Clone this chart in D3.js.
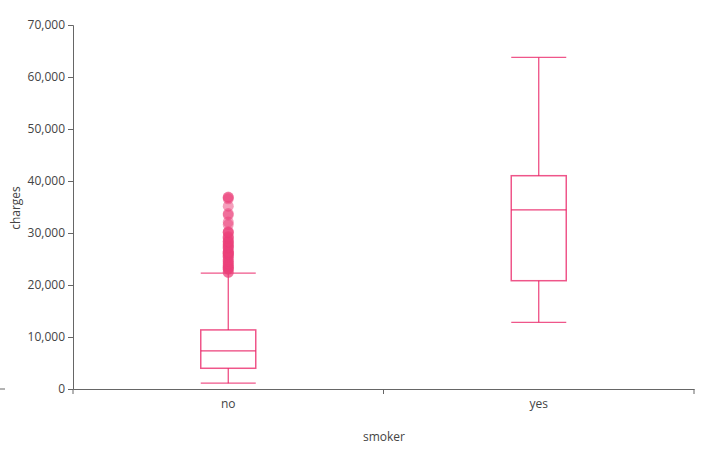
<!DOCTYPE html>
<html><head><meta charset="utf-8">
<script src="https://cdn.jsdelivr.net/npm/d3@7"></script>
<style>
body{margin:0;background:#fff;}
text{font-family:"Open Sans","Noto Sans",sans-serif;}
</style></head>
<body><svg id="c" width="704" height="459"></svg>
<script>
const categories = ["no", "yes"];
const mins = [1122, 12829];
const q1s = [3986, 20826];
const medians = [7345, 34456];
const q3s = [11363, 41019];
const maxs = [22296, 63770];
const outliersNo = [22412, 22493, 23045, 23082, 23288, 23401, 23563, 23807, 24059, 24227, 24513, 24671, 24915, 25333, 25517, 25656, 25992, 26018, 26140, 26236, 26392, 26467, 27000, 27218, 27346, 27533, 27724, 27941, 28287, 28340, 28468, 28950, 29186, 29330, 30063, 30167, 30260, 31620, 32108, 33471, 33732, 35160, 36580, 36837, 36910];
const yTicks = [0, 10000, 20000, 30000, 40000, 50000, 60000, 70000];

const svg = d3.select("#c");
const m = {l:73, r:10, t:25, b:70};
const W = 704, H = 459;
const x = d3.scaleBand().domain(categories).range([m.l, W - m.r]).padding(0);
const y = d3.scaleLinear().domain([0, 70000]).range([H - m.b, m.t]);
const fmt = d3.format(",");

const ya = svg.append("g").attr("transform", `translate(${m.l},0)`)
  .call(d3.axisLeft(y).tickValues(yTicks).tickFormat(fmt).tickSizeOuter(0).tickSize(5));
ya.select(".domain").attr("stroke", "#666");
ya.selectAll(".tick line").attr("stroke", "#666");
ya.selectAll(".tick text").attr("fill", "#444").attr("font-size", 12);

const xa = svg.append("g").attr("transform", `translate(0,${H - m.b})`)
  .call(d3.axisBottom(x).tickSize(0).tickSizeOuter(0));
xa.select(".domain").attr("stroke", "#666");
xa.selectAll(".tick text").attr("fill", "#444").attr("font-size", 12).attr("dy", "1.3em");
const bounds = [x.range()[0], x(categories[1]), x.range()[1]];
xa.selectAll(".bt").data(bounds).enter().append("line")
  .attr("x1", d => d).attr("x2", d => d).attr("y1", 0).attr("y2", 5).attr("stroke", "#666");

svg.append("line").attr("x1", 0).attr("x2", 5).attr("y1", y(0)).attr("y2", y(0)).attr("stroke", "#666");

svg.append("text").attr("x", 384).attr("y", 441).attr("text-anchor", "middle")
  .attr("font-size", 12).attr("fill", "#444").text("smoker");
svg.append("text").attr("transform", `translate(20,${208}) rotate(-90)`).attr("text-anchor", "middle")
  .attr("font-size", 12).attr("fill", "#444").text("charges");

const col = "#e91e63";
const bw = 55;
const g = svg.append("g");
categories.forEach((c, i) => {
  const cx = x(c) + x.bandwidth() / 2;
  g.append("line").attr("x1", cx).attr("x2", cx).attr("y1", y(maxs[i])).attr("y2", y(q3s[i]))
    .attr("stroke", col).attr("stroke-opacity", 0.85).attr("stroke-width", 1.2);
  g.append("line").attr("x1", cx).attr("x2", cx).attr("y1", y(q1s[i])).attr("y2", y(mins[i]))
    .attr("stroke", col).attr("stroke-opacity", 0.85).attr("stroke-width", 1.2);
  [mins[i], maxs[i]].forEach(v => g.append("line")
    .attr("x1", cx - bw / 2).attr("x2", cx + bw / 2).attr("y1", y(v)).attr("y2", y(v))
    .attr("stroke", col).attr("stroke-opacity", 0.75).attr("stroke-width", 1.2));
  g.append("rect").attr("x", cx - bw / 2).attr("width", bw)
    .attr("y", y(q3s[i])).attr("height", y(q1s[i]) - y(q3s[i]))
    .attr("fill", "none").attr("stroke", col).attr("stroke-opacity", 0.75).attr("stroke-width", 1.5);
  g.append("line").attr("x1", cx - bw / 2).attr("x2", cx + bw / 2).attr("y1", y(medians[i])).attr("y2", y(medians[i]))
    .attr("stroke", col).attr("stroke-opacity", 0.85).attr("stroke-width", 1.2);
});

const cxNo = x("no") + x.bandwidth() / 2;
g.selectAll(".o").data(outliersNo).enter().append("circle")
  .attr("cx", cxNo).attr("cy", d => y(d)).attr("r", 5.5)
  .attr("fill", "#ec407a").attr("fill-opacity", 0.5).attr("stroke", "none");
</script></body></html>
